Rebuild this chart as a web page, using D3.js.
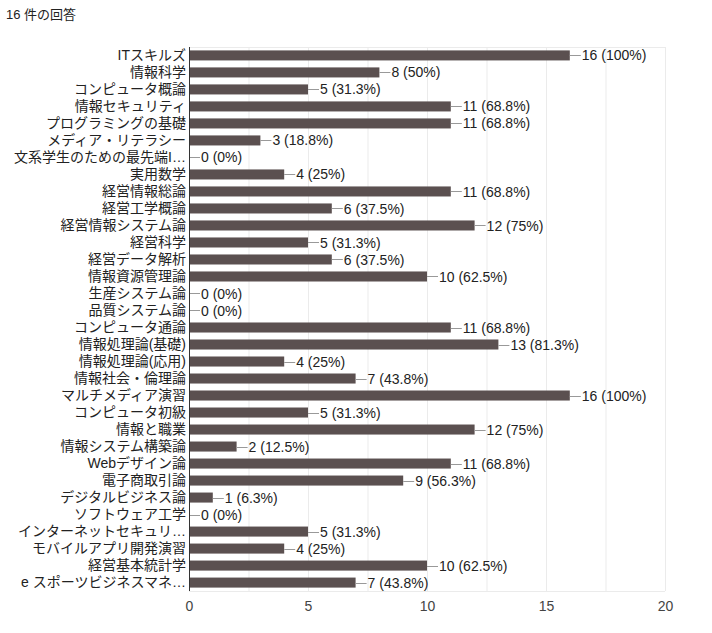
<!DOCTYPE html>
<html><head><meta charset="utf-8">
<script src="https://cdn.jsdelivr.net/npm/d3@7"></script>
<style>
body{margin:0;background:#fff;}
text{font-family:"Liberation Sans","Noto Sans CJK JP",Arial,sans-serif;}
</style></head>
<body><svg id="c" width="712" height="633"></svg>
<script>
const title = "16 件の回答";
const categories = ["ITスキルズ","情報科学","コンピュータ概論","情報セキュリティ","プログラミングの基礎","メディア・リテラシー","文系学生のための最先端I…","実用数学","経営情報総論","経営工学概論","経営情報システム論","経営科学","経営データ解析","情報資源管理論","生産システム論","品質システム論","コンピュータ通論","情報処理論(基礎)","情報処理論(応用)","情報社会・倫理論","マルチメディア演習","コンピュータ初級","情報と職業","情報システム構築論","Webデザイン論","電子商取引論","デジタルビジネス論","ソフトウェア工学","インターネットセキュリ…","モバイルアプリ開発演習","経営基本統計学","e スポーツビジネスマネ…"];
const counts = [16,8,5,11,11,3,0,4,11,6,12,5,6,10,0,0,11,13,4,7,16,5,12,2,11,9,1,0,5,4,10,7];
const percents = ["100%","50%","31.3%","68.8%","68.8%","18.8%","0%","25%","68.8%","37.5%","75%","31.3%","37.5%","62.5%","0%","0%","68.8%","81.3%","25%","43.8%","100%","31.3%","75%","12.5%","68.8%","56.3%","6.3%","0%","31.3%","25%","62.5%","43.8%"];
const xTicks = [0,5,10,15,20];
const gridTicks = [2.5,5,7.5,10,12.5,15,17.5,20];

(function(){
const svg = d3.select("#c");
const L = 189, R = 665, T = 47, B = 591;
const x = d3.scaleLinear().domain([0,20]).range([L,R]);
const y = d3.scaleBand().domain(categories).range([T,B]).paddingInner(0.41).paddingOuter(0.2);

svg.append("text").attr("x",6).attr("y",19).attr("font-size",13).attr("fill","#222").text(title);

// grid
svg.append("g").selectAll("line").data(gridTicks).join("line")
  .attr("x1",d=>x(d)+0.5).attr("x2",d=>x(d)+0.5).attr("y1",T).attr("y2",B)
  .attr("stroke","#ebebeb");
svg.append("line").attr("x1",L).attr("x2",R).attr("y1",T+0.5).attr("y2",T+0.5).attr("stroke","#ebebeb");
svg.append("line").attr("x1",L).attr("x2",R).attr("y1",B+0.5).attr("y2",B+0.5).attr("stroke","#ebebeb");

// bars
svg.append("g").selectAll("rect").data(counts).join("rect")
  .attr("x",L).attr("y",(d,i)=>y(categories[i]))
  .attr("width",d=>x(d)-L).attr("height",y.bandwidth())
  .attr("fill","#5b5050");

// leader lines & value labels
const lab = svg.append("g");
counts.forEach((d,i)=>{
  const cy = y(categories[i]) + y.bandwidth()/2;
  lab.append("line").attr("x1",x(d)).attr("x2",x(d)+11).attr("y1",Math.round(cy)+0.5).attr("y2",Math.round(cy)+0.5).attr("stroke","#999");
  lab.append("text").attr("x",x(d)+12).attr("y",cy).attr("dy","0.36em")
    .attr("font-size",14).attr("fill","#222").text(d+" ("+percents[i]+")");
});

// axis line
svg.append("line").attr("x1",L+0.5).attr("x2",L+0.5).attr("y1",T).attr("y2",B).attr("stroke","#333");

// category labels
const yAxis = d3.axisLeft(y).tickSize(0).tickPadding(3);
const ga = svg.append("g").attr("transform",`translate(${L},0)`).call(yAxis);
ga.select(".domain").remove();
ga.selectAll("text").attr("font-size",14).attr("fill","#222").attr("font-family",null);

// x axis
const xAxis = d3.axisBottom(x).tickValues(xTicks).tickSize(0).tickPadding(10);
const gx = svg.append("g").attr("transform",`translate(0,${B})`).call(xAxis);
gx.select(".domain").remove();
gx.selectAll("text").attr("font-size",14).attr("fill","#444").attr("font-family",null);
})();
</script></body></html>
